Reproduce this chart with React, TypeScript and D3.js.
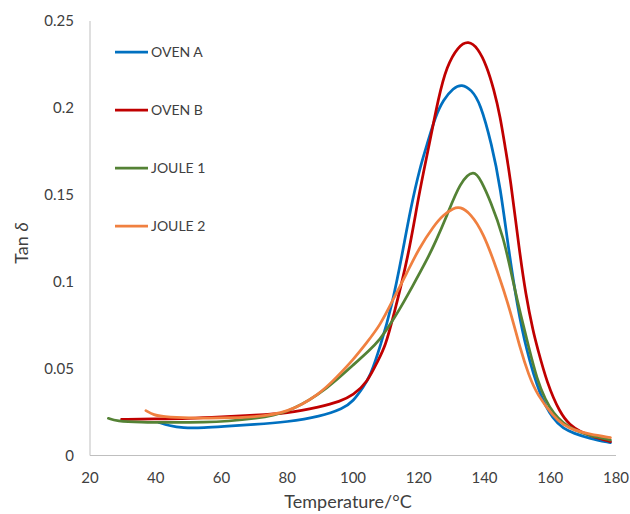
import React, { useEffect, useRef } from 'react';
import * as d3 from 'd3';

// temperature (°C) / tan delta readings
const ovenA: [number, number][] = [
  [41, 0.019], [44, 0.0172], [48, 0.0158], [55, 0.016], [60, 0.0166], [70, 0.0178], [80, 0.0193],
  [90, 0.0224], [97, 0.027], [100, 0.031], [103.2, 0.0396], [105.2, 0.0454], [108.3, 0.0627],
  [111.8, 0.0857], [114.9, 0.115], [117.5, 0.142], [120.4, 0.166], [122.4, 0.178], [125, 0.195],
  [127.5, 0.2048], [130.5, 0.2115], [133.1, 0.2138], [136, 0.2105], [138.7, 0.203], [142.2, 0.179],
  [144.8, 0.155], [147.5, 0.116], [150, 0.086], [152.6, 0.0615], [156.9, 0.0339], [161, 0.0204],
  [164, 0.0155], [167.1, 0.0128], [172, 0.0098], [178.3, 0.0074],
];

const ovenB: [number, number][] = [
  [29.6, 0.0208], [40, 0.021], [50, 0.0213], [60, 0.0222], [70, 0.0232], [80, 0.0242], [90, 0.028],
  [96, 0.031], [100.1, 0.0348], [104.2, 0.0416], [107.7, 0.055], [109.8, 0.0627], [112.3, 0.08],
  [116.9, 0.115], [120, 0.15], [123, 0.177], [126, 0.206], [128.5, 0.224], [132, 0.2355],
  [135.1, 0.2388], [138, 0.2345], [140.7, 0.224], [142.8, 0.211], [144.8, 0.195], [146.3, 0.177],
  [147.8, 0.1606], [150.6, 0.118], [152.5, 0.093], [154.9, 0.0704], [156, 0.0627], [159, 0.0416],
  [163, 0.0243], [166, 0.0175], [169.1, 0.0137], [173, 0.0108], [178.3, 0.008],
];

const joule1: [number, number][] = [
  [25.6, 0.0214], [28, 0.0198], [35.2, 0.0191], [45, 0.019], [55, 0.0191], [62, 0.0197],
  [70, 0.0212], [80, 0.0243], [90, 0.0355], [95, 0.0435], [100, 0.052], [105, 0.0605],
  [108.3, 0.067], [111, 0.0745], [114, 0.0835], [118, 0.097], [122.5, 0.1126], [125, 0.1225],
  [128.5, 0.1376], [132.6, 0.1575], [136.8, 0.1648], [139, 0.158], [141.7, 0.147], [145.8, 0.126],
  [148.8, 0.099], [151, 0.081], [153.4, 0.0627], [156, 0.0435], [158.5, 0.032], [161, 0.0243],
  [164, 0.0185], [167.1, 0.0147], [172, 0.0115], [178.3, 0.0089],
];

const joule2: [number, number][] = [
  [37, 0.0258], [39.5, 0.0232], [42, 0.0224], [50, 0.0216], [60, 0.0215], [70, 0.0222],
  [80, 0.0243], [90, 0.0355], [95, 0.045], [100, 0.055], [104, 0.0645], [108.3, 0.075],
  [112, 0.089], [116.4, 0.105], [120, 0.119], [124.5, 0.132], [127.5, 0.1385], [130.6, 0.1424],
  [132.5, 0.1432], [135.7, 0.1395], [139.7, 0.128], [143.8, 0.1069], [147.8, 0.0838],
  [150.9, 0.061], [153.5, 0.046], [156, 0.035], [161, 0.0224], [164, 0.0175], [167.1, 0.0147],
  [172, 0.0122], [178.3, 0.0103],
];

const seriesNames = ['OVEN A', 'OVEN B', 'JOULE 1', 'JOULE 2'];
const seriesData = [ovenA, ovenB, joule1, joule2];
const seriesColors = ['#0070c0', '#c00000', '#548235', '#f08040'];

const xTicks = [20, 40, 60, 80, 100, 120, 140, 160, 180];
const yTicks = [0, 0.05, 0.1, 0.15, 0.2, 0.25];

const App = () => {
  const svgRef = useRef<SVGSVGElement>(null);
  const width = 630;
  const height = 514;

  useEffect(() => {
    const svg = d3.select(svgRef.current);
    svg.selectAll('*').remove();

    const font = 'Lato, "Open Sans", sans-serif';
    const textColor = '#404040';

    const x = d3.scaleLinear().domain([20, 180]).range([90, 616]);
    const y = d3.scaleLinear().domain([0, 0.25]).range([455.5, 21]);

    // axis lines
    svg.append('line')
      .attr('x1', x(20)).attr('x2', x(20))
      .attr('y1', y(0.25)).attr('y2', y(0))
      .attr('stroke', '#bfbfbf').attr('stroke-width', 1);
    svg.append('line')
      .attr('x1', x(20)).attr('x2', x(180))
      .attr('y1', y(0)).attr('y2', y(0))
      .attr('stroke', '#bfbfbf').attr('stroke-width', 1);

    svg.selectAll('.ytick')
      .data(yTicks)
      .enter().append('text')
      .attr('class', 'ytick')
      .attr('x', 74)
      .attr('y', d => y(d))
      .attr('dy', '0.35em')
      .attr('text-anchor', 'end')
      .attr('font-family', font)
      .attr('font-size', 15)
      .attr('fill', textColor)
      .text(d => String(d));

    svg.selectAll('.xtick')
      .data(xTicks)
      .enter().append('text')
      .attr('class', 'xtick')
      .attr('x', d => x(d))
      .attr('y', 478)
      .attr('dy', '0.35em')
      .attr('text-anchor', 'middle')
      .attr('font-family', font)
      .attr('font-size', 15)
      .attr('fill', textColor)
      .text(d => String(d));

    // titles
    svg.append('text')
      .attr('x', 348)
      .attr('y', 502)
      .attr('dy', '0.35em')
      .attr('text-anchor', 'middle')
      .attr('font-family', font)
      .attr('font-size', 18)
      .attr('fill', textColor)
      .text('Temperature/°C');

    const yTitle = svg.append('text')
      .attr('transform', 'translate(22,243) rotate(-90)')
      .attr('dy', '0.35em')
      .attr('text-anchor', 'middle')
      .attr('font-family', font)
      .attr('font-size', 18)
      .attr('fill', textColor);
    yTitle.append('tspan').text('Tan ');
    yTitle.append('tspan').attr('font-style', 'italic').text('δ');

    // b-spline smooths out the reading noise, like the smoothed excel lines
    const line = d3.line<[number, number]>()
      .x(d => x(d[0]))
      .y(d => y(d[1]))
      .curve(d3.curveBasis);

    seriesData.forEach((data, i) => {
      svg.append('path')
        .datum(data)
        .attr('d', line)
        .attr('fill', 'none')
        .attr('stroke', seriesColors[i])
        .attr('stroke-width', 2.75)
        .attr('stroke-linejoin', 'round')
        .attr('stroke-linecap', 'round');
    });

    const legend = svg.append('g');
    seriesNames.forEach((name, i) => {
      const ly = 52 + i * 58;
      legend.append('line')
        .attr('x1', 115).attr('x2', 148)
        .attr('y1', ly).attr('y2', ly)
        .attr('stroke', seriesColors[i])
        .attr('stroke-width', 2.75);
      legend.append('text')
        .attr('x', 151)
        .attr('y', ly)
        .attr('dy', '0.35em')
        .attr('font-family', font)
        .attr('font-size', 14)
        .attr('fill', textColor)
        .text(name);
    });
  }, []);

  return (
    <svg
      ref={svgRef}
      width={width}
      height={height}
      style={{ position: 'absolute', left: 0, top: 0, background: '#fff' }}
    />
  );
};

export default App;
